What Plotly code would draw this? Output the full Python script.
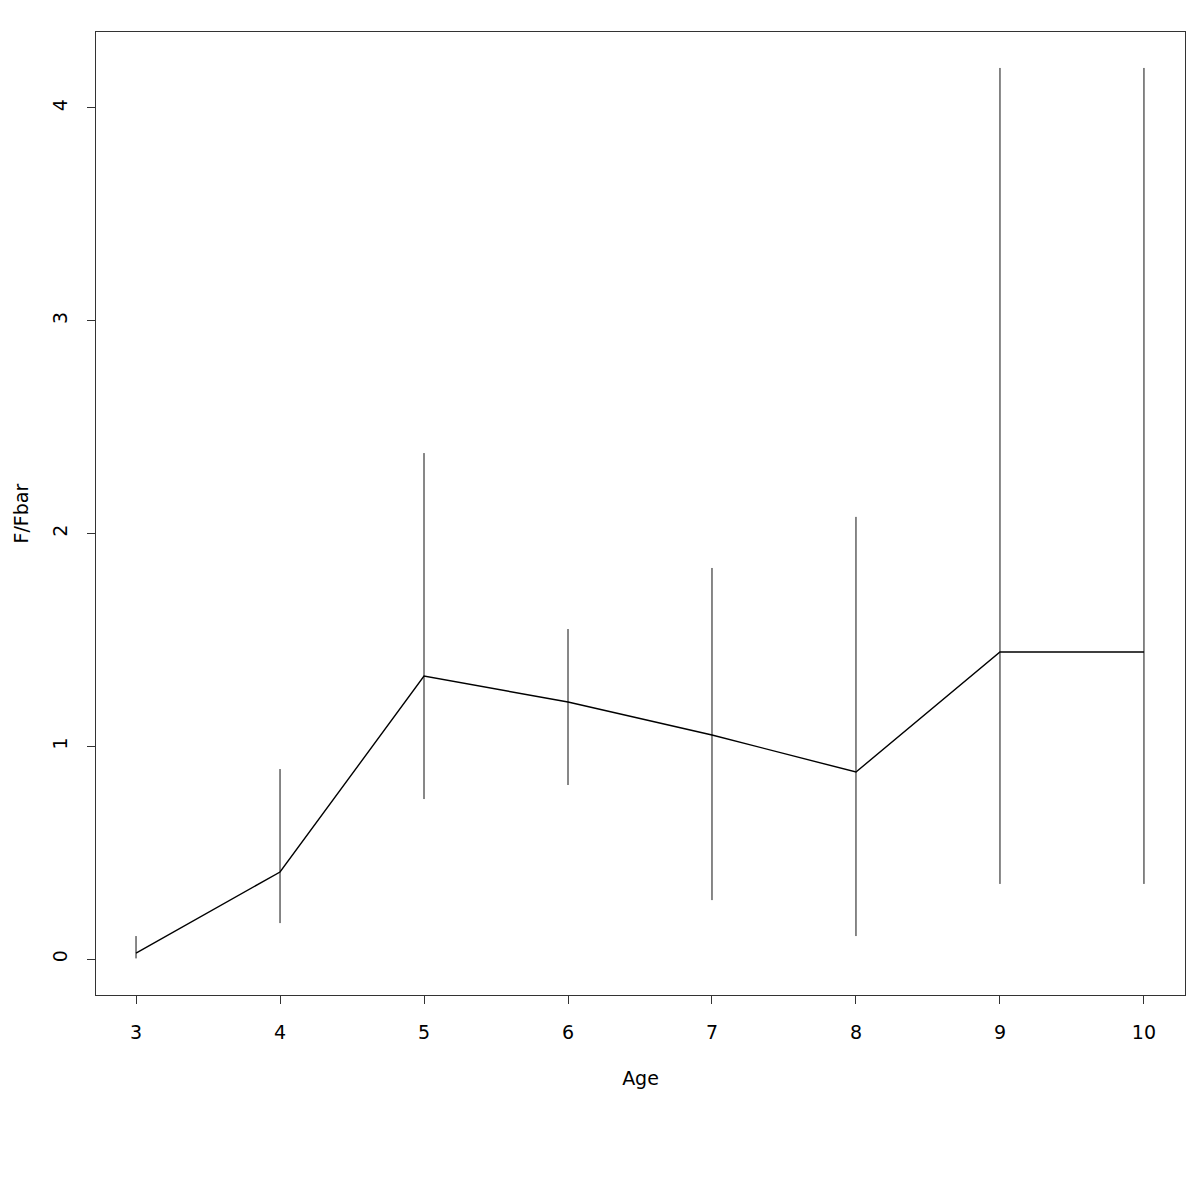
import plotly.graph_objects as go

ages = [3, 4, 5, 6, 7, 8, 9, 10]
fbar_ratio = [0.028, 0.409, 1.330, 1.208, 1.053, 0.879, 1.443, 1.443]
upper = [0.108, 0.893, 2.378, 1.551, 1.838, 2.078, 4.188, 4.188]
lower = [0.003, 0.169, 0.752, 0.818, 0.277, 0.108, 0.353, 0.353]

err_plus = [u - v for u, v in zip(upper, fbar_ratio)]
err_minus = [v - l for v, l in zip(fbar_ratio, lower)]

fig = go.Figure()
fig.add_trace(go.Scatter(
    x=ages, y=fbar_ratio, mode="lines",
    line=dict(color="black", width=1.4),
    error_y=dict(type="data", symmetric=False, array=err_plus, arrayminus=err_minus,
                 width=0, thickness=1, color="#111"),
    showlegend=False,
))

font = dict(family="DejaVu Sans, Liberation Sans, sans-serif", size=19, color="black")
fig.update_layout(
    width=1200, height=1200,
    margin=dict(l=88, r=23, t=24, b=213),
    paper_bgcolor="white", plot_bgcolor="white",
    font=font,
    xaxis=dict(range=[2.722, 10.285], tickvals=ages, ticks="outside", ticklen=8,
               ticklabelstandoff=12, automargin=False,
               showgrid=False, zeroline=False, showline=True, mirror=True,
               linecolor="#333", linewidth=1, tickcolor="#333",
               title=dict(text="Age", standoff=29, font=font)),
    yaxis=dict(range=[-0.169, 4.357], tickvals=[0, 1, 2, 3, 4], ticks="outside", ticklen=8,
               ticklabelstandoff=12, automargin=False,
               tickangle=-90, showgrid=False, zeroline=False, showline=True, mirror=True,
               linecolor="#333", linewidth=1, tickcolor="#333"),
    annotations=[dict(text="F/Fbar", xref="paper", yref="paper", x=0, y=0.5,
                      xanchor="center", yanchor="middle", xshift=-76, textangle=-90,
                      showarrow=False, font=font)],
)
fig.write_html("out.html")
